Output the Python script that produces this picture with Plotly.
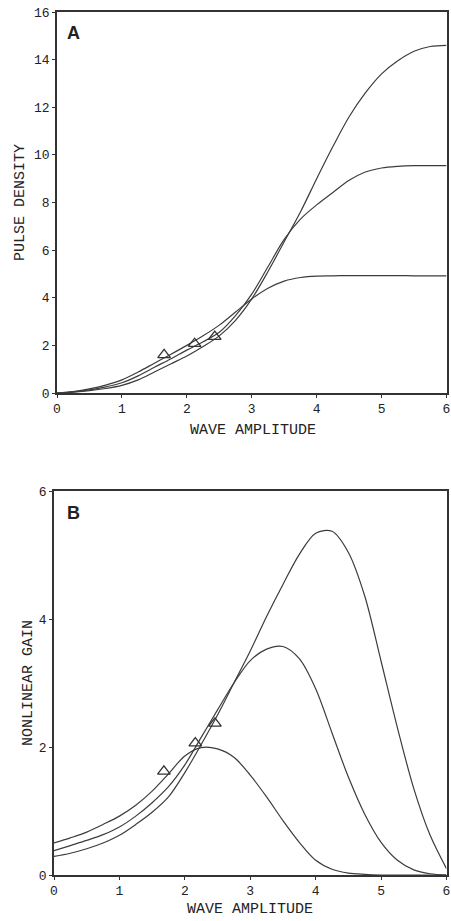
import plotly.graph_objects as go

# ---------------- data ----------------
X = [0, 0.25, 0.5, 0.75, 1.0, 1.25, 1.5, 1.75, 2.0, 2.25, 2.5, 2.75, 3.0,
     3.25, 3.5, 3.75, 4.0, 4.25, 4.5, 4.75, 5.0, 5.25, 5.5, 5.75, 6.0]

# Panel A: pulse density
A_q5 = [0, 0.06, 0.17, 0.33, 0.55, 0.88, 1.25, 1.62, 2.0, 2.4, 2.85, 3.4, 3.95,
        4.4, 4.7, 4.85, 4.91, 4.92, 4.93, 4.93, 4.93, 4.93, 4.92, 4.92, 4.92]
A_q10 = [0, 0.05, 0.13, 0.26, 0.43, 0.72, 1.08, 1.43, 1.8, 2.15, 2.55, 3.25, 4.15,
         5.3, 6.45, 7.3, 7.9, 8.42, 8.93, 9.28, 9.45, 9.52, 9.55, 9.55, 9.55]
A_q15 = [0, 0.04, 0.1, 0.19, 0.32, 0.55, 0.88, 1.22, 1.55, 1.95, 2.4, 3.05, 3.95,
         5.1, 6.35, 7.6, 9.0, 10.35, 11.6, 12.6, 13.4, 13.95, 14.35, 14.55, 14.6]
A_tri_x = [1.65, 2.12, 2.43]
A_tri_y = [1.6, 2.07, 2.37]

# Panel B: nonlinear gain
B_q5 = [0.5, 0.58, 0.67, 0.79, 0.92, 1.09, 1.31, 1.58, 1.86, 1.99, 1.97, 1.84, 1.56,
        1.22, 0.85, 0.51, 0.23, 0.09, 0.03, 0.01, 0, 0, 0, 0, 0]
B_q10 = [0.38, 0.46, 0.54, 0.63, 0.75, 0.92, 1.13, 1.38, 1.72, 2.15, 2.58, 3.0, 3.35,
         3.53, 3.57, 3.38, 2.91, 2.22, 1.53, 0.95, 0.51, 0.23, 0.08, 0.02, 0.0]
B_q15 = [0.29, 0.34, 0.41, 0.5, 0.62, 0.79, 0.98, 1.22, 1.6, 2.04, 2.5, 3.0, 3.5,
         4.04, 4.54, 5.01, 5.34, 5.37, 5.04, 4.36, 3.34, 2.3, 1.35, 0.62, 0.1]
B_tri_x = [1.68, 2.16, 2.46]
B_tri_y = [1.62, 2.06, 2.37]

A_yticks = [0, 2, 4, 6, 8, 10, 12, 14, 16]
B_yticks = [0, 2, 4, 6]
X_ticks = [0, 1, 2, 3, 4, 5, 6]

# ---------------- styling ----------------
W, H = 451, 921
INK = "#333333"
LINE = dict(color="#3c3c3c", width=1.2, shape="spline", smoothing=0.9)
MONO = "Liberation Mono"

fig = go.Figure()

for ys in (A_q5, A_q10, A_q15):
    fig.add_trace(go.Scatter(x=X, y=ys, mode="lines", line=LINE,
                             xaxis="x", yaxis="y", hoverinfo="skip"))
fig.add_trace(go.Scatter(x=A_tri_x, y=A_tri_y, mode="markers",
                         marker=dict(symbol="triangle-up-open", size=11,
                                     color=INK, line=dict(width=1.3, color=INK)),
                         xaxis="x", yaxis="y"))

for ys in (B_q5, B_q10, B_q15):
    fig.add_trace(go.Scatter(x=X, y=ys, mode="lines", line=LINE,
                             xaxis="x2", yaxis="y2", hoverinfo="skip"))
fig.add_trace(go.Scatter(x=B_tri_x, y=B_tri_y, mode="markers",
                         marker=dict(symbol="triangle-up-open", size=11,
                                     color=INK, line=dict(width=1.3, color=INK)),
                         xaxis="x2", yaxis="y2"))


def px_x(p):
    return p / W


def px_y(p):
    return 1 - p / H


axis_common = dict(showgrid=False, zeroline=False, showline=True, mirror=True,
                   linecolor=INK, linewidth=1.6, ticks="outside", ticklen=3,
                   tickwidth=1.2, tickcolor=INK, automargin=False,
                   ticklabeloverflow="allow",
                   tickfont=dict(family=MONO, size=13, color="#222222"))

fig.update_layout(
    width=W, height=H,
    margin=dict(l=0, r=0, t=0, b=0, pad=0, autoexpand=False),
    paper_bgcolor="white", plot_bgcolor="white",
    showlegend=False,
    xaxis=dict(domain=[px_x(57), px_x(446.5)], range=[0, 6], tickvals=X_ticks,
               anchor="y", **axis_common),
    yaxis=dict(domain=[px_y(393), px_y(12)], range=[0, 16], tickvals=A_yticks,
               anchor="x", **axis_common),
    xaxis2=dict(domain=[px_x(54), px_x(446.5)], range=[0, 6], tickvals=X_ticks,
                anchor="y2", **axis_common),
    yaxis2=dict(domain=[px_y(875), px_y(491)], range=[0, 6], tickvals=B_yticks,
                anchor="x2", **axis_common),
)

title_font = dict(family=MONO, size=15, color="#222222")
annots = [
    dict(text="WAVE AMPLITUDE", x=px_x(253), y=px_y(430), xref="paper", yref="paper",
         showarrow=False, font=title_font, xanchor="center", yanchor="middle"),
    dict(text="PULSE DENSITY", x=px_x(20), y=px_y(203), xref="paper", yref="paper",
         showarrow=False, font=title_font, textangle=-90,
         xanchor="center", yanchor="middle"),
    dict(text="WAVE AMPLITUDE", x=px_x(250), y=px_y(909), xref="paper", yref="paper",
         showarrow=False, font=title_font, xanchor="center", yanchor="middle"),
    dict(text="NONLINEAR GAIN", x=px_x(28), y=px_y(683), xref="paper", yref="paper",
         showarrow=False, font=title_font, textangle=-90,
         xanchor="center", yanchor="middle"),
    dict(text="<b>A</b>", x=px_x(73), y=px_y(33), xref="paper", yref="paper",
         showarrow=False, font=dict(family="Liberation Sans", size=18, color="#222222"),
         xanchor="center", yanchor="middle"),
    dict(text="<b>B</b>", x=px_x(73), y=px_y(513), xref="paper", yref="paper",
         showarrow=False, font=dict(family="Liberation Sans", size=18, color="#222222"),
         xanchor="center", yanchor="middle"),
]
fig.update_layout(annotations=annots)

fig.write_html("out.html")
